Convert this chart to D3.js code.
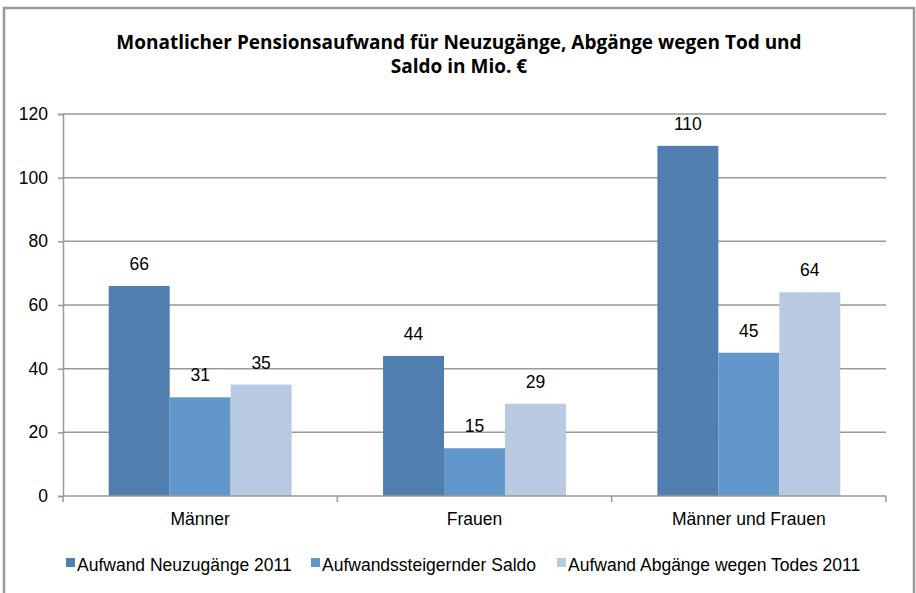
<!DOCTYPE html>
<html>
<head>
<meta charset="utf-8">
<script src="https://cdn.jsdelivr.net/npm/d3@7"></script>
<style>
  body { margin: 0; background: #fff; }
  svg { display: block; }
  .tick text { font-family: "Liberation Sans", Arial, sans-serif; font-size: 17.5px; fill: #000; }
</style>
</head>
<body>
<svg id="chart" width="916" height="593"></svg>
<script>
// chart data
const categories = ["Männer", "Frauen", "Männer und Frauen"];
const seriesNames = ["Aufwand Neuzugänge 2011", "Aufwandssteigernder Saldo", "Aufwand Abgänge wegen Todes 2011"];
const neuzugaenge = [66, 44, 110];
const saldo = [31, 15, 45];
const abgaenge = [35, 29, 64];
const yTicks = [0, 20, 40, 60, 80, 100, 120];
const colors = ["#507eaf", "#6197ca", "#b9c9e1"];

const svg = d3.select("#chart");
const margin = { left: 63, right: 30, top: 114, bottom: 97 };
const W = 916, H = 593;
const plotW = W - margin.left - margin.right;
const plotH = H - margin.top - margin.bottom;

// outer frame
svg.append("rect")
  .attr("x", 4).attr("y", 8)
  .attr("width", 910).attr("height", 600)
  .attr("fill", "#fff")
  .attr("stroke", "#999").attr("stroke-width", 2.5);

// title
const title = svg.append("text")
  .attr("text-anchor", "middle")
  .attr("font-family", "'Open Sans', sans-serif")
  .attr("font-weight", "bold")
  .attr("font-size", 19)
  .attr("fill", "#000");
title.append("tspan").attr("x", 459).attr("y", 49)
  .text("Monatlicher Pensionsaufwand für Neuzugänge, Abgänge wegen Tod und");
title.append("tspan").attr("x", 459).attr("y", 73)
  .text("Saldo in Mio. €");

const g = svg.append("g").attr("transform", `translate(${margin.left},${margin.top})`);

const x0 = d3.scaleBand().domain(categories).range([0, plotW]).paddingInner(0).paddingOuter(0);
// Excel gap width 150%: bars take 3 of 4.5 units
const x1 = d3.scaleBand().domain(d3.range(3))
  .range([x0.bandwidth() * 0.75 / 4.5, x0.bandwidth() - x0.bandwidth() * 0.75 / 4.5]);
const y = d3.scaleLinear().domain([0, 120]).range([plotH, 0]);

// gridlines
g.append("g")
  .selectAll("line")
  .data(yTicks.filter(d => d > 0))
  .join("line")
  .attr("x1", 0).attr("x2", plotW)
  .attr("y1", d => y(d)).attr("y2", d => y(d))
  .attr("stroke", "#999").attr("stroke-width", 1.5);

// y axis
const yAxis = g.append("g")
  .call(d3.axisLeft(y).tickValues(yTicks).tickSize(5).tickPadding(10));
yAxis.select(".domain").attr("stroke", "#999").attr("stroke-width", 1.5);
yAxis.selectAll(".tick line").attr("stroke", "#999").attr("stroke-width", 1.5);

// bars
const values = [neuzugaenge, saldo, abgaenge];
const rows = categories.map((c, i) => ({ cat: c, vals: values.map(s => s[i]) }));

const groups = g.append("g").selectAll("g")
  .data(rows)
  .join("g")
  .attr("transform", d => `translate(${x0(d.cat)},0)`);

groups.selectAll("rect")
  .data(d => d.vals.map((v, k) => ({ v, k })))
  .join("rect")
  .attr("x", d => x1(d.k))
  .attr("width", x1.bandwidth())
  .attr("y", d => y(d.v))
  .attr("height", d => y(0) - y(d.v))
  .attr("fill", d => colors[d.k]);

groups.selectAll("text")
  .data(d => d.vals.map((v, k) => ({ v, k })))
  .join("text")
  .attr("x", d => x1(d.k) + x1.bandwidth() / 2)
  .attr("y", d => y(d.v) - 16)
  .attr("text-anchor", "middle")
  .attr("font-family", "'Liberation Sans', Arial, sans-serif")
  .attr("font-size", 17.5)
  .text(d => d.v);

// x axis
const xAxis = g.append("g")
  .attr("transform", `translate(0,${plotH})`)
  .call(d3.axisBottom(x0).tickSize(0).tickPadding(17));
xAxis.select(".domain").remove();
xAxis.append("line")
  .attr("x1", 0).attr("x2", plotW)
  .attr("stroke", "#999").attr("stroke-width", 1.5);
xAxis.selectAll("line.sep")
  .data(d3.range(4))
  .join("line")
  .attr("class", "sep")
  .attr("x1", i => i * x0.step()).attr("x2", i => i * x0.step())
  .attr("y1", 0).attr("y2", 6)
  .attr("stroke", "#999").attr("stroke-width", 1.5);

// legend
const legendX = [66, 311, 557];
const legend = svg.append("g").selectAll("g")
  .data(seriesNames)
  .join("g")
  .attr("transform", (d, i) => `translate(${legendX[i]},558)`);
legend.append("rect")
  .attr("width", 9).attr("height", 9)
  .attr("fill", (d, i) => colors[i]);
legend.append("text")
  .attr("x", 11).attr("y", 13)
  .attr("font-family", "'Liberation Sans', Arial, sans-serif")
  .attr("font-size", 17.5)
  .text(d => d);
</script>
</body>
</html>
